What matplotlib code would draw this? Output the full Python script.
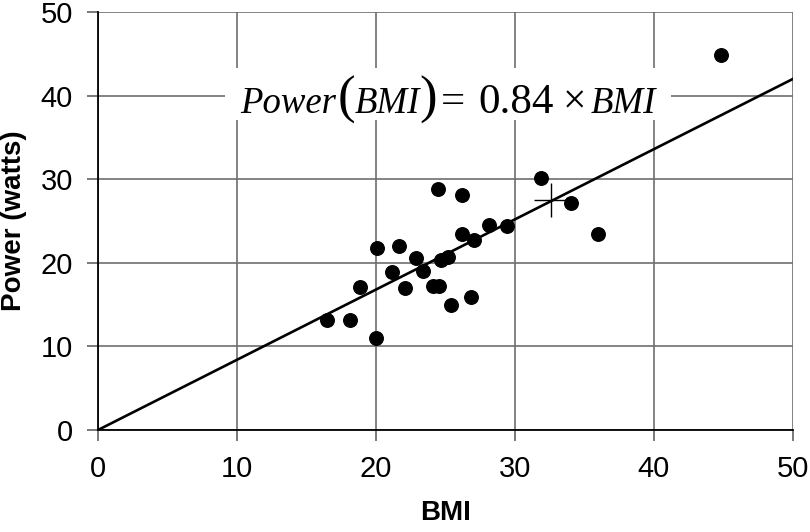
import matplotlib
matplotlib.use("Agg")
import matplotlib.pyplot as plt
from matplotlib.patches import Rectangle
import numpy as np

bmi = [16.5, 18.1, 20.0, 18.85, 20.07, 21.65, 21.15, 22.1, 22.9, 23.4, 24.1, 24.55,
       24.46, 24.7, 25.2, 25.4, 26.2, 26.2, 26.8, 27.05, 28.15, 29.45, 31.85, 34.0,
       36.0, 44.8]
power = [13.2, 13.2, 11.0, 17.1, 21.8, 22.0, 18.9, 17.0, 20.6, 19.0, 17.2, 17.2,
         28.8, 20.3, 20.65, 15.0, 28.1, 23.4, 15.9, 22.7, 24.5, 24.4, 30.1, 27.1,
         23.5, 44.9]
slope = 0.84
mean_point = (32.6, 27.5)
xticks = [0, 10, 20, 30, 40, 50]
yticks = [0, 10, 20, 30, 40, 50]

W, H = 810, 532
fig = plt.figure(figsize=(W / 100, H / 100), dpi=100)
ax = fig.add_axes([98 / W, 102 / H, 695 / W, 418 / H])

ax.set_xlim(0, 50)
ax.set_ylim(0, 50)
ax.set_xticks(xticks)
ax.set_yticks(yticks)
ax.grid(True, color='#6e6e6e', lw=1.2)
ax.set_axisbelow(True)
for s in ['top', 'right']:
    ax.spines[s].set_visible(False)
for s in ['left', 'bottom']:
    ax.spines[s].set_color('black')
    ax.spines[s].set_linewidth(1.3)
ax.tick_params(direction='out', length=8, width=1.1, color='#555555',
               labelsize=21, pad=10)
for lab in ax.get_xticklabels() + ax.get_yticklabels():
    lab.set_family('Liberation Sans')

xs = np.array([0, 50])
ax.plot(xs, slope * xs, color='black', lw=1.9, zorder=3)
ax.scatter(bmi, power, s=95, color='black', zorder=4, clip_on=False)
ax.plot([mean_point[0]], [mean_point[1]], marker='+', ms=24, mew=1.0,
        color='black', zorder=4)

# equation label (white background box interrupting the grid)
fig.patches.append(Rectangle((225 / W, (H - 120) / H), 446 / W, 52 / H,
                             transform=fig.transFigure, fc='white', ec='none',
                             zorder=1))
base_y = (H - 113) / H
pieces = [("Power", 'italic', 26.5, 288.3),
          ("(", 'normal', 38, 346),
          ("BMI", 'italic', 26.5, 387.5),
          (")", 'normal', 38, 428),
          ("=", 'normal', 31, 453),
          ("0.84", 'normal', 31, 516.5),
          ("\u00d7", 'normal', 30, 574),
          ("BMI", 'italic', 26.5, 623.5)]
for txt, style, size, cx in pieces:
    fig.text(cx / W, base_y, txt, family='Liberation Serif', style=style,
             fontsize=size, ha='center', va='baseline', zorder=5)

ax.set_xlabel('BMI', fontsize=20, fontweight='bold', family='Liberation Sans', labelpad=12)
ax.set_ylabel('Power (watts)', fontsize=20, fontweight='bold', family='Liberation Sans', labelpad=10)

fig.savefig('out.png', dpi=100)
